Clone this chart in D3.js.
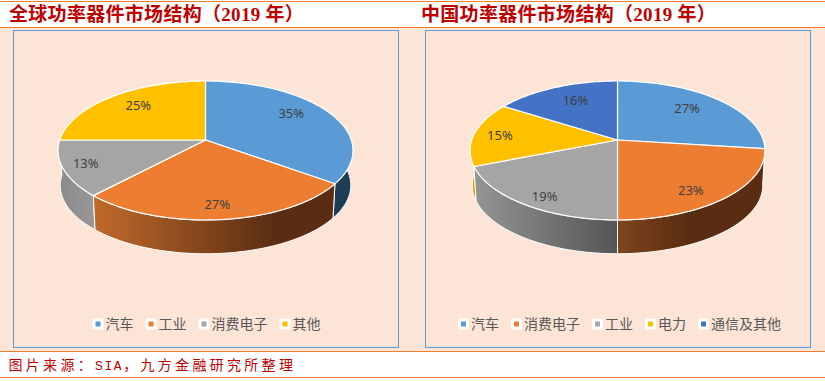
<!DOCTYPE html>
<html>
<head>
<meta charset="utf-8">
<script src="https://cdnjs.cloudflare.com/ajax/libs/d3/7.8.5/d3.min.js"></script>
<style>
  html, body { margin: 0; padding: 0; background: #fff; }
  svg { display: block; }
</style>
</head>
<body>
<div id="chart"></div>
<script>

// chart values
const globalTitle = "全球功率器件市场结构（2019 年）";
const globalCategories = ["汽车", "工业", "消费电子", "其他"];
const globalValues = [35, 27, 13, 25];

const chinaTitle = "中国功率器件市场结构（2019 年）";
const chinaCategories = ["汽车", "消费电子", "工业", "电力", "通信及其他"];
const chinaValues = [27, 23, 19, 15, 16];

const sourceParts = ["图片来源：", "SIA", "，九方金融研究所整理"];

// slice colours
const globalColors = ["#5b9bd5", "#ed7d31", "#a5a5a5", "#ffc000"];
const chinaColors = ["#5b9bd5", "#ed7d31", "#a5a5a5", "#ffc000", "#4472c4"];

// side wall gradients, [left, right] per slice
const globalWalls = [["#23425e", "#1f3c55"], ["#c06a2b", "#5a2d12"], ["#8a8a8a", "#989898"], ["#8a6a00", "#8a6a00"]];
const chinaWalls = [["#23425e", "#1f3c55"], ["#7f441c", "#5a2d12"], ["#959595", "#555555"], ["#d9a300", "#d9a300"], ["#26406e", "#26406e"]];

// label tweaks in px, Excel puts them by best fit
const globalNudge = [[-1, -6], [1, 12], [-22, 4], [0, -3]];
const chinaNudge = [[-2, -2], [0, 12], [-10, 13], [-17, 0], [3, -1]];

const props = {
    width: 825,
    height: 381,
    peach: "#fce4d6",
    line: "#ed7d31",
    red: "#c00000",
    box: "#5b9bd5",
    boxW: 385,
    boxT: 30,
    boxH: 317,
    cy: 140,        // pie centre on screen
    sx: 145.8,      // horizontal scale of the disc
    sy: 67.9,       // vertical scale of the disc
    persp: 0.151,   // perspective strength
    depth: 35,      // wall height
    shrink: 0.985,  // bottom rim is a bit smaller
    labelR: 0.7,
    legendY: 324,
    legendFont: 14,
};

const svg = d3.select("#chart").append("svg")
    .attr("width", props.width)
    .attr("height", props.height);
const defs = svg.append("defs");

// bands and rules
svg.append("rect").attr("x", 0).attr("y", 27).attr("width", props.width).attr("height", 324).attr("fill", props.peach);
[1, 27, 351, 377].forEach(y => {
    svg.append("line")
       .attr("x1", 0).attr("x2", props.width)
       .attr("y1", y + 0.5).attr("y2", y + 0.5)
       .attr("stroke", props.line).attr("stroke-width", 1);
});

// footer
const footer = svg.append("text")
   .attr("x", 8.5).attr("y", 370)
   .attr("fill", props.red)
   .style("font-family", "'Liberation Mono', 'Noto Sans CJK SC', monospace")
   .style("font-size", "14px");

sourceParts.forEach((part, i) => {
    footer.append("tspan")
          .style("letter-spacing", i === 1 ? "1.6px" : "3.3px")
          .style("font-size", i === 1 ? "13px" : "14px")
          .text(part);
});


function drawPanel (key, def) {

    const g = svg.append("g");

    g.append("text")
     .attr("x", def.titleX).attr("y", 21)
     .attr("fill", props.red)
     .style("font-family", "'Liberation Serif', 'Noto Sans CJK SC', serif")
     .style("font-size", "19px")
     .style("font-weight", "bold")
     .style("letter-spacing", "0.3px")
     .text(def.title);

    g.append("rect")
     .attr("x", def.boxX + 0.5).attr("y", props.boxT + 0.5)
     .attr("width", props.boxW).attr("height", props.boxH)
     .attr("fill", "none")
     .attr("stroke", props.box);

    // unit disc -> screen, a small perspective so the centre sits above the ellipse middle
    const project = (theta, r, lower) => {
        const u = r * Math.sin(theta);
        const v = -r * Math.cos(theta);
        const w = 1 - props.persp * v;
        const k = lower ? props.shrink : 1;
        return [
            def.cx + k * props.sx * u / w,
            props.cy + k * props.sy * v / w + (lower ? props.depth : 0),
        ];
    };

    const arcs = d3.pie().sort(null)(def.values);
    const color = d3.scaleOrdinal().domain(def.categories).range(def.colors);
    const line = d3.line();
    const rim = (a, lower) => {
        const n = Math.max(2, Math.ceil((a.endAngle - a.startAngle) * 40));
        return d3.range(n + 1).map(i => project(a.startAngle + (a.endAngle - a.startAngle) * i / n, 1, lower));
    };

    // walls, back ones first
    const backToFront = arcs.slice().sort((a, b) =>
        -Math.cos((a.startAngle + a.endAngle) / 2) - -Math.cos((b.startAngle + b.endAngle) / 2));

    backToFront.forEach(a => {
        const top = rim(a, false);
        const bottom = rim(a, true).reverse();
        const id = `${key}-wall-${a.index}`;
        const xs = top.concat(bottom).map(d => d[0]);
        const grad = defs.append("linearGradient")
            .attr("id", id)
            .attr("gradientUnits", "userSpaceOnUse")
            .attr("x1", d3.min(xs)).attr("x2", def.gradEnd[a.index] === null ? d3.max(xs) : def.cx + def.gradEnd[a.index])
            .attr("y1", 0).attr("y2", 0);
        grad.append("stop").attr("offset", 0).attr("stop-color", def.walls[a.index][0]);
        grad.append("stop").attr("offset", 1).attr("stop-color", def.walls[a.index][1]);

        g.append("path")
         .attr("d", line(top.concat(bottom)) + "Z")
         .attr("fill", `url(#${id})`)
         .attr("stroke", "#fff")
         .attr("stroke-width", 1)
         .attr("stroke-linejoin", "round");
    });

    // top face
    arcs.forEach(a => {
        const pts = [project(0, 0, false)].concat(rim(a, false));
        g.append("path")
         .attr("d", line(pts) + "Z")
         .attr("fill", color(def.categories[a.index]))
         .attr("stroke", "#fff")
         .attr("stroke-width", 1.2)
         .attr("stroke-linejoin", "round");
    });

    // percent labels
    arcs.forEach(a => {
        const p = project((a.startAngle + a.endAngle) / 2, props.labelR, false);
        g.append("text")
         .attr("x", p[0] + def.nudge[a.index][0])
         .attr("y", p[1] + def.nudge[a.index][1])
         .attr("dy", "0.35em")
         .attr("text-anchor", "middle")
         .attr("fill", "#404040")
         .style("font-family", "'Noto Sans', sans-serif")
         .style("font-size", "13px")
         .text(d3.format(".0f")(a.value / d3.sum(def.values) * 100) + "%");
    });

    // legend, centred under the pie
    const markerW = 13;
    const itemGap = 12;
    const itemW = c => markerW + c.length * props.legendFont;
    const total = d3.sum(def.categories, itemW) + itemGap * (def.categories.length - 1);
    let x = def.legendC - total / 2;

    def.categories.forEach(c => {
        const item = g.append("g").attr("transform", `translate(${x}, ${props.legendY})`);
        item.append("rect")
            .attr("x", 0).attr("y", -5.5)
            .attr("width", 11).attr("height", 11)
            .attr("rx", 1.5)
            .attr("fill", "#fff");
        item.append("rect")
            .attr("x", 3).attr("y", -2.5)
            .attr("width", 5).attr("height", 5)
            .attr("fill", color(c));
        item.append("text")
            .attr("x", markerW).attr("y", 0)
            .attr("dy", "0.36em")
            .attr("fill", "#595959")
            .style("font-family", "'Noto Sans CJK SC', sans-serif")
            .style("font-size", props.legendFont + "px")
            .text(c);
        x += itemW(c) + itemGap;
    });
}

drawPanel("global", {
    title: globalTitle, titleX: 9, boxX: 13, cx: 205.5, legendC: 206.5,
    categories: globalCategories, values: globalValues, colors: globalColors,
    walls: globalWalls, nudge: globalNudge, gradEnd: [null, 70, null, null],
});

drawPanel("china", {
    title: chinaTitle, titleX: 421, boxX: 425, cx: 617.5, legendC: 619.5,
    categories: chinaCategories, values: chinaValues, colors: chinaColors,
    walls: chinaWalls, nudge: chinaNudge, gradEnd: [null, 70, 0, null, null],
});

</script>
</body>
</html>
